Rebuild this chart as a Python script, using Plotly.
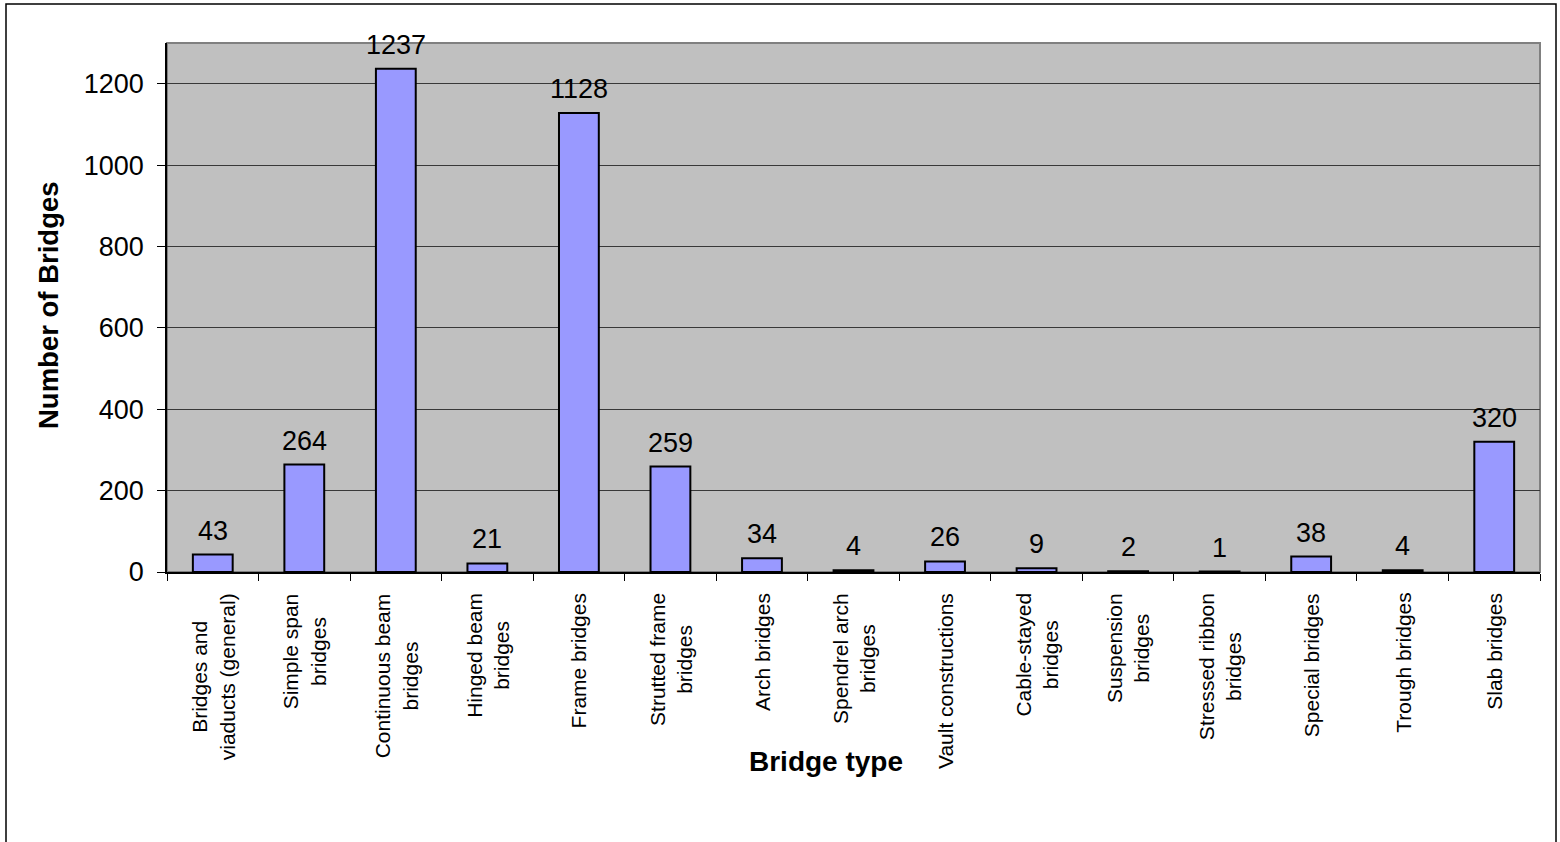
import plotly.graph_objects as go

# Bridge counts by construction type
categories = [
    "Bridges and<br>viaducts (general)",
    "Simple span<br>bridges",
    "Continuous beam<br>bridges",
    "Hinged beam<br>bridges",
    "Frame bridges",
    "Strutted frame<br>bridges",
    "Arch bridges",
    "Spendrel arch<br>bridges",
    "Vault constructions",
    "Cable-stayed<br>bridges",
    "Suspension<br>bridges",
    "Stressed ribbon<br>bridges",
    "Special bridges",
    "Trough bridges",
    "Slab bridges",
]
counts = [43, 264, 1237, 21, 1128, 259, 34, 4, 26, 9, 2, 1, 38, 4, 320]
y_ticks = [0, 200, 400, 600, 800, 1000, 1200]

W, H = 1560, 842
L, R, T, B = 167, 20, 43, 270
pw, ph = W - L - R, H - T - B

FONT = "Liberation Sans, Arial, sans-serif"

fig = go.Figure(
    go.Bar(
        x=list(range(len(categories))),
        y=counts,
        marker=dict(color="#9999FF", line=dict(color="black", width=2)),
        width=0.435,
        hoverinfo="skip",
    )
)

annotations = []
# value labels above each bar
for i, v in enumerate(counts):
    annotations.append(dict(
        x=i, y=v, xref="x", yref="y", text=str(v), showarrow=False,
        yanchor="bottom", xanchor="center", yshift=7,
        font=dict(family=FONT, size=27, color="black"),
    ))
# rotated category labels under the axis
for i, c in enumerate(categories):
    annotations.append(dict(
        x=i, y=0, xref="x", yref="paper", text=c, showarrow=False,
        textangle=-90, yanchor="top", xanchor="center", align="center",
        yshift=-19,
        font=dict(family=FONT, size=21, color="black"),
    ))
# axis titles
annotations.append(dict(
    x=(826 - L) / pw, y=(H - B - 762) / ph, xref="paper", yref="paper",
    text="<b>Bridge type</b>", showarrow=False,
    xanchor="center", yanchor="middle",
    font=dict(family=FONT, size=28, color="black"),
))
annotations.append(dict(
    x=(48 - L) / pw, y=(H - B - 305) / ph, xref="paper", yref="paper",
    text="<b>Number of Bridges</b>", showarrow=False, textangle=-90,
    xanchor="center", yanchor="middle",
    font=dict(family=FONT, size=27.5, color="black"),
))

shapes = [
    # plot area frame (grey, drawn beneath the black axis lines)
    dict(type="rect", xref="paper", yref="paper", x0=0, x1=1, y0=0, y1=1,
         line=dict(color="#808080", width=2), layer="below"),
    # chart border
    dict(type="rect", xref="paper", yref="paper",
         x0=(6 - L) / pw, x1=(1556 - L) / pw,
         y0=(H - B - 900) / ph, y1=(H - B - 4) / ph,
         line=dict(color="black", width=1.5), layer="above"),
]

fig.update_layout(
    width=W, height=H,
    margin=dict(l=L, r=R, t=T, b=B, pad=0),
    paper_bgcolor="white",
    plot_bgcolor="#C0C0C0",
    showlegend=False,
    annotations=annotations,
    shapes=shapes,
    font=dict(family=FONT, color="black"),
)
fig.update_xaxes(
    range=[-0.5, len(categories) - 0.5],
    tickmode="array",
    tickvals=[i - 0.5 for i in range(len(categories) + 1)],
    showticklabels=False,
    ticks="outside", ticklen=7, tickcolor="black", tickwidth=1,
    showline=True, linecolor="black", linewidth=1.5,
    showgrid=False, zeroline=False,
)
fig.update_yaxes(
    range=[0, 1300],
    tickmode="array", tickvals=y_ticks,
    ticks="outside", ticklen=8, tickcolor="black", tickwidth=1,
    ticklabelstandoff=8,
    tickfont=dict(family=FONT, size=27, color="black"),
    showline=True, linecolor="black", linewidth=1.5,
    showgrid=True, gridcolor="#383838", gridwidth=1,
    zeroline=False,
)

fig.write_html("out.html")
